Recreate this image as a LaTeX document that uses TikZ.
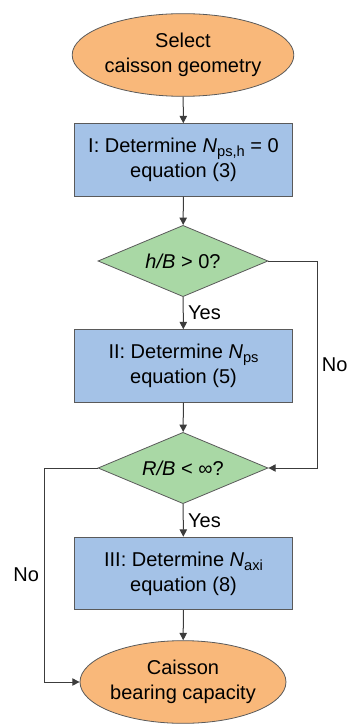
\documentclass[tikz,border=0pt]{standalone}
\usepackage{fontspec}
\setmainfont{Liberation Sans}
\usetikzlibrary{shapes.geometric,arrows.meta}

\definecolor{termfill}{HTML}{F9B87A}
\definecolor{stepfill}{HTML}{A4C2E7}
\definecolor{askfill}{HTML}{A9D8A5}
\definecolor{edge}{HTML}{5A5A5A}
\definecolor{wire}{HTML}{3C3C3C}

% lowered index for the N factors
\newcommand{\idx}[1]{\raisebox{-0.35ex}{\fontsize{11}{11}\selectfont #1}}

\begin{document}
\begin{tikzpicture}[x=0.75pt,y=-0.75pt,
		font=\fontsize{15}{18.5}\selectfont,
		term/.style={ellipse,draw=edge,fill=termfill,line width=0.6pt,
			minimum width=127.5pt,minimum height=62pt,inner sep=0pt,align=center},
		stepbox/.style={rectangle,draw=edge,fill=stepfill,line width=0.6pt,
			minimum width=164pt,minimum height=54.5pt,inner sep=0pt,align=center},
		ask/.style={diamond,draw=edge,fill=askfill,line width=0.6pt,aspect=2.36,
			minimum width=127.5pt,minimum height=53.5pt,inner sep=0pt,align=center},
		arr/.style={draw=wire,line width=0.75pt,-{Triangle[length=5.5pt,width=5.5pt]}}]
			\useasboundingbox (0,0) rectangle (347,727);
			% flow chart blocks
			\node[term] (start) at (183,55) {Select\\caisson geometry};
			\node[stepbox] (det1) at (183.5,160) {I: Determine \textit{N}\idx{ps,h} = 0\\equation (3)};
			\node[ask] (ask1) at (183,261) {\textit{h/B} > 0?};
			\node[stepbox] (det2) at (183.5,366) {II: Determine \textit{N}\idx{ps}\\equation (5)};
			\node[ask] (ask2) at (183,468) {\textit{R/B} < ∞?};
			\node[stepbox] (det3) at (183.5,573.5) {III: Determine \textit{N}\idx{axi}\\equation (8)};
			\node[term] (stop) at (183,682) {Caisson\\bearing capacity};
			% side routes for the "No" branches
			\coordinate (rside) at (317,0);
			\coordinate (lside) at (44,0);
			% connectors
			\draw[arr] (start) -- (det1);
			\draw[arr] (det1) -- (ask1);
			\draw[arr] (ask1) -- node[right] {Yes} (det2);
			\draw[arr] (det2) -- (ask2);
			\draw[arr] (ask2) -- node[right] {Yes} (det3);
			\draw[arr] (det3) -- (stop);
			\draw[arr] (ask1.east) -- (ask1.east -| rside)
				-- node[right] {No} (ask2.east -| rside) -- (ask2.east);
			\draw[arr] (ask2.west) -- (ask2.west -| lside)
				-- node[left] {No} (stop.west -| lside) -- (stop.west);
		\end{tikzpicture}
\end{document}
